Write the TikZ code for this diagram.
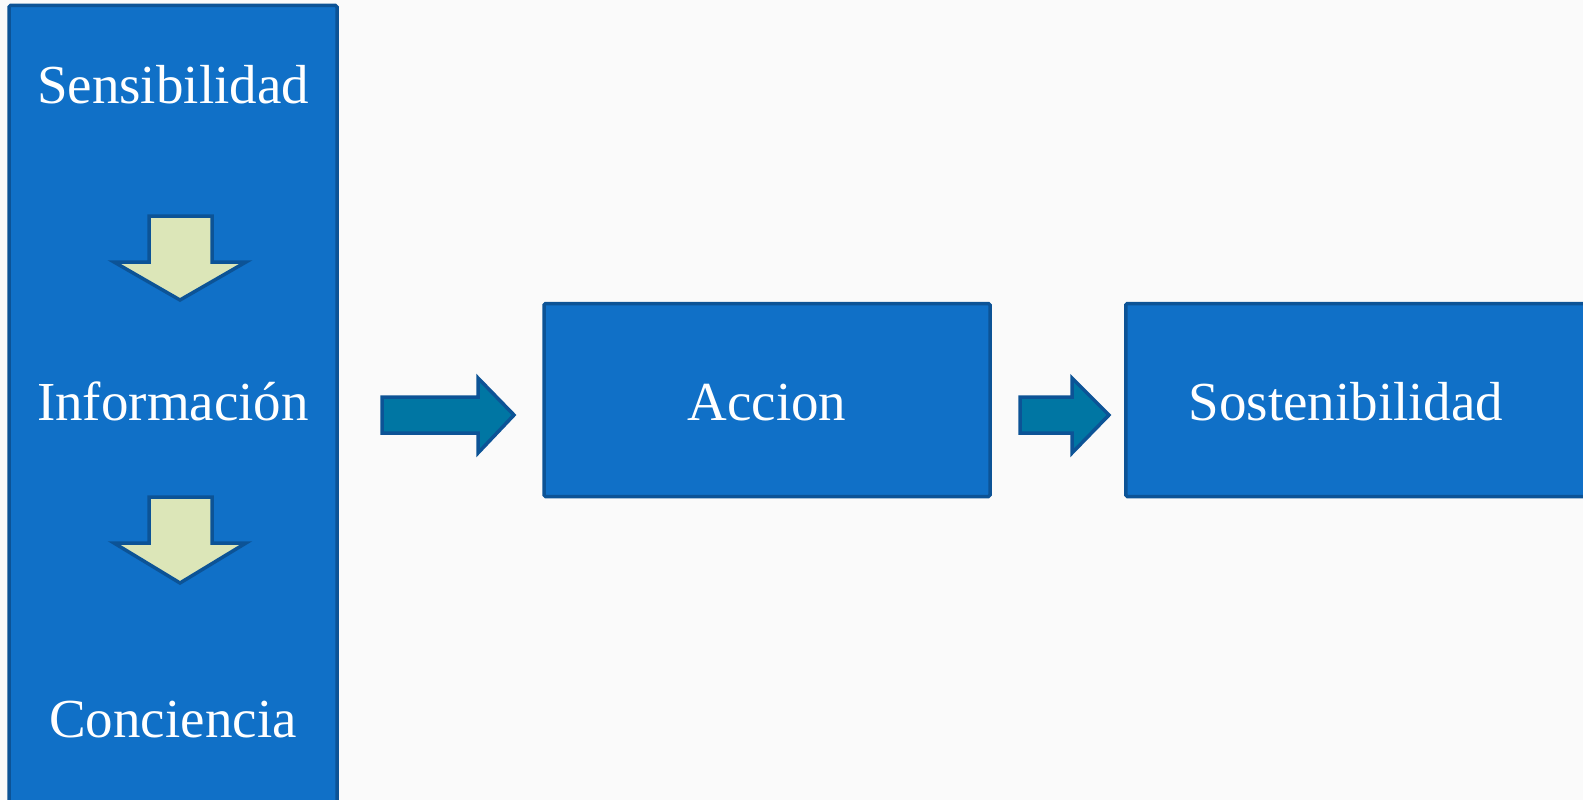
\documentclass[tikz,border=0pt]{standalone}
\usepackage{fontspec}
\setmainfont{Liberation Serif}
\usepackage{xcolor}
\usepackage{tikz}

\definecolor{boxblue}{RGB}{16,112,199}
\definecolor{edgeblue}{RGB}{12,83,150}
\definecolor{palegreen}{RGB}{220,230,184}
\definecolor{tealarrow}{RGB}{0,118,163}
\definecolor{paper}{RGB}{250,250,250}

\tikzset{
  stagebox/.style={draw=edgeblue, fill=boxblue, line width=3.5pt, rounded corners=1.5pt, inner sep=0pt},
  stagetext/.style={text=white, anchor=base, font=\fontsize{55}{64}\selectfont},
  downarrow/.style={draw=edgeblue, fill=palegreen, line width=3.5pt, line join=miter},
  rightarrow/.style={draw=edgeblue, fill=tealarrow, line width=3.5pt, line join=miter}
}

\begin{document}
\begin{tikzpicture}[x=1pt,y=-1pt]
        \useasboundingbox (0,0) rectangle (1583,800);
        \fill[paper] (0,0) rectangle (1583,800);
        \clip (0,0) rectangle (1583,800);
        % boxes
        \node[stagebox, minimum width=328, minimum height=815] (left) at (173,413) {};
        \node[stagebox, minimum width=446, minimum height=193] (accion) at (767,400) {};
        \node[stagebox, minimum width=480, minimum height=193, anchor=west] (sost) at (1124,400) {};
        % labels
        \node[stagetext] (sens) at (173,103) {Sensibilidad};
        \node[stagetext] (info) at (173,420) {Información};
        \node[stagetext] (conc) at (173,737) {Conciencia};
        \node[stagetext] (acc) at (767,420) {Accion};
        \node[stagetext] (sos) at (1346,420) {Sostenibilidad};
        % down arrows
        \draw[downarrow] (149,216) -- (212,216) -- (212,262) -- (246,262) -- (180,300)
            -- (114,262) -- (149,262) -- cycle;
        \draw[downarrow] (149,497) -- (212,497) -- (212,543) -- (246,543) -- (180,583)
            -- (114,543) -- (149,543) -- cycle;
        % right arrows
        \draw[rightarrow] (382,397) -- (478,397) -- (478,378) -- (514,415) -- (478,453)
            -- (478,433) -- (382,433) -- cycle;
        \draw[rightarrow] (1020,397) -- (1072,397) -- (1072,378) -- (1109,415) -- (1072,453)
            -- (1072,433) -- (1020,433) -- cycle;
    \end{tikzpicture}
\end{document}
